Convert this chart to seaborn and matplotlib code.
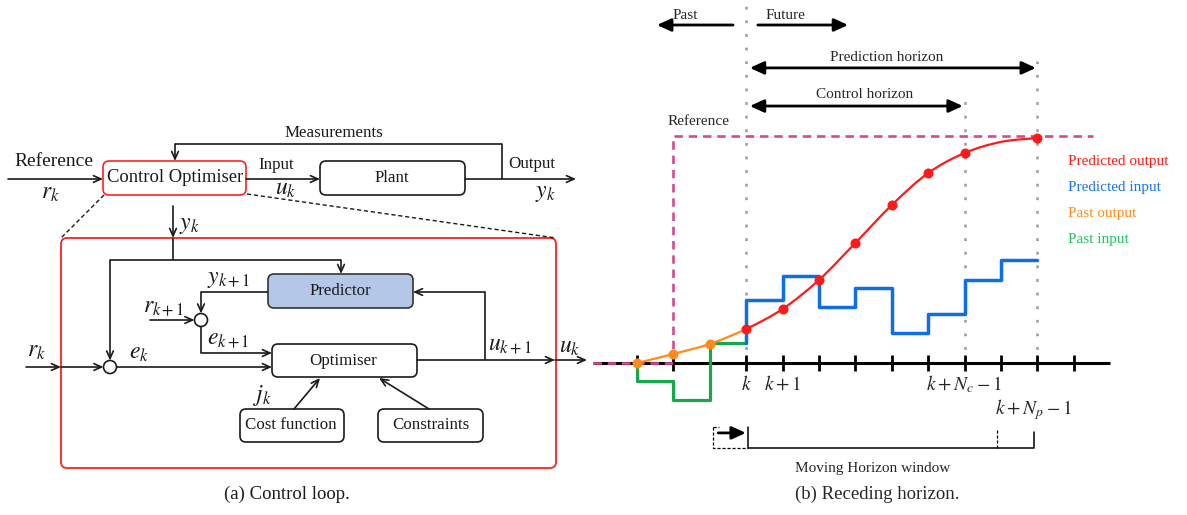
import numpy as np
import matplotlib
matplotlib.use("Agg")
import matplotlib.pyplot as plt
from matplotlib.patches import FancyBboxPatch, Circle, PathPatch
from matplotlib.path import Path
import seaborn as sns

# ---------------------------------------------------------------------------
# Receding-horizon data: discrete time steps on the horizontal axis and
# normalised signal levels (reference = 1).
# ---------------------------------------------------------------------------
steps = np.arange(13)                 # sampling instants shown as ticks
k_now = 3                             # current instant k
n_control = 7                         # control horizon N_c
n_predict = 9                         # prediction horizon N_p
reference_level = 1.0
reference_start = 1                   # step where the reference jumps

past_output = [0.0, 0.040, 0.084, 0.150]                       # steps 0..3
predicted_output = [0.150, 0.238, 0.366, 0.529, 0.696,
                    0.837, 0.925, 0.974, 0.991]                  # steps 3..11
past_input = [-0.079, -0.163, 0.088]                             # held on [0,1),[1,2),[2,3)
predicted_input = [0.278, 0.383, 0.247, 0.330,
                   0.132, 0.216, 0.366, 0.454]                   # held on [3,4) .. [10,11)

legend_labels = ["Predicted output", "Predicted input", "Past output", "Past input"]
legend_colors = ["#ff1a1a", "#1a72f0", "#ff8c1a", "#1fc462"]
tick_labels = {k_now: r"$k$", k_now + 1: r"$k+1$",
               k_now + n_control - 1: r"$k+N_c-1$"}

RED = "#ff1a1a"
BLUE = "#0f6de6"
ORANGE = "#ff8c1a"
GREEN = "#16a84a"
PINK = "#d6498f"
GREY = "#a3a3a3"
INK = "#1a1a1a"

sns.set_theme(style="white")
plt.rcParams["font.family"] = ["Liberation Serif", "DejaVu Serif"]
plt.rcParams["mathtext.fontset"] = "stix"

W, H = 1187, 515
fig = plt.figure(figsize=(W / 100, H / 100), dpi=100)
fig.patch.set_facecolor("white")

# ---------------------------------------------------------------------------
# (a) Control loop: block diagram on a pixel-like canvas
# ---------------------------------------------------------------------------
ax = fig.add_axes([0, 0, 1, 1])
ax.set_xlim(0, W)
ax.set_ylim(H, 0)
ax.axis("off")

LW = 1.2
small_head = "->,head_length=0.45,head_width=0.2"


def box(x0, y0, x1, y1, ec=INK, fc="white", lw=LW):
    ax.add_patch(FancyBboxPatch((x0, y0), x1 - x0, y1 - y0,
                                boxstyle="round,pad=0,rounding_size=6",
                                ec=ec, fc=fc, lw=lw, zorder=3))


def arrow(x0, y0, x1, y1):
    ax.annotate("", xy=(x1, y1), xytext=(x0, y0),
                arrowprops=dict(arrowstyle=small_head, lw=LW, color=INK,
                                shrinkA=0, shrinkB=0, mutation_scale=12),
                zorder=4)


def line(xs, ys, **kw):
    ax.plot(xs, ys, color=kw.pop("color", INK), lw=kw.pop("lw", LW),
            solid_capstyle="butt", zorder=4, **kw)


def label(x, y, s, size=12.2, **kw):
    ax.text(x, y, s, fontsize=size, ha=kw.pop("ha", "center"),
            va=kw.pop("va", "center"), color=kw.pop("color", INK), **kw)


def summer(x, y, r=6.5):
    ax.add_patch(Circle((x, y), r, fc="white", ec=INK, lw=LW, zorder=5))


MATH = 17

# top-level loop
arrow(8, 179, 103, 179)
box(103, 161, 246, 195, ec="#ff2020")
label(175, 178, "Control Optimiser", size=13.4)
label(54, 162, "Reference", size=14)
label(50, 193, r"$r_k$", size=MATH)
arrow(246, 179, 320, 179)
label(276, 165, "Input")
label(286, 189, r"$u_k$", size=MATH)
box(320, 161, 465, 195)
label(392, 178, "Plant")
arrow(465, 179, 576, 179)
label(532, 164, "Output")
label(545, 193, r"$y_k$", size=MATH)
line([502, 502, 175], [179, 144, 144])
arrow(175, 144, 175, 161)
label(334, 133, "Measurements")

# zoom-in guides
line([104, 61], [195, 238], lw=1.0, ls=(0, (3, 2)))
line([247, 556], [194, 238], lw=1.0, ls=(0, (3, 2)))

# expanded controller
box(61, 238, 556, 468, ec="#ff2020", fc="none", lw=1.3)
arrow(173, 206, 173, 238)
label(189, 225, r"$y_k$", size=MATH)
line([173, 173], [238, 260])
line([110, 341], [260, 260])
arrow(341, 260, 341, 274)
arrow(110, 260, 110, 360.5)
summer(110, 367)
arrow(26, 367, 61, 367)
arrow(61, 367, 103.5, 367)
label(36, 351, r"$r_k$", size=MATH)
label(139, 354, r"$e_k$", size=MATH)
arrow(116.5, 367, 272, 367)

box(268, 274, 413, 308, ec="#333333", fc="#b4c7e7")
label(340, 291, "Predictor")
line([268, 201], [292, 292])
arrow(201, 292, 201, 313.5)
label(229, 279, r"$y_{k+1}$", size=MATH)
summer(201, 320)
arrow(150, 320, 194.5, 320)
label(164, 307, r"$r_{k+1}$", size=MATH)
line([201, 201], [326.5, 353])
arrow(201, 353, 272, 353)
label(228, 339, r"$e_{k+1}$", size=MATH)

box(272, 344, 417, 377)
label(343, 361, "Optimiser")
arrow(417, 360, 555, 360)
arrow(555, 360, 587, 360)
line([485, 485], [360, 292])
arrow(485, 292, 413, 292)
label(510, 346, r"$u_{k+1}$", size=MATH)
label(570, 348, r"$u_k$", size=MATH)

box(240, 409, 344, 442)
label(291, 425, "Cost function")
box(378, 409, 483, 442)
label(431, 425, "Constraints")
arrow(294, 409, 320, 378)
label(263, 396, r"$j_k$", size=MATH)
arrow(429, 409, 379, 378)

label(287, 494, "(a) Control loop.", size=13.5)

# ---------------------------------------------------------------------------
# (b) Receding horizon: data axes (one unit = one sampling step)
# ---------------------------------------------------------------------------
x_px0, x_px1 = 585, W
axr = fig.add_axes([x_px0 / W, 0, (x_px1 - x_px0) / W, 1])
axr.set_xlim((x_px0 - 637) / 36.4, (x_px1 - 637) / 36.4)
axr.set_ylim(-152 / 227, 363 / 227)
axr.axis("off")
axr.patch.set_alpha(0)

k_c = k_now + n_control - 1
k_p = k_now + n_predict - 1

# time axis with ticks
axr.plot([-1.2, 13.0], [0, 0], color="black", lw=2.2, zorder=3,
         solid_capstyle="butt")
axr.vlines(steps, -0.036, 0.036, color="black", lw=2.0, zorder=3)

# horizon markers
dots = (0, (1, 3.9))
axr.vlines(k_now, 0, 1.575, color=GREY, lw=2.0, ls=dots, zorder=1)
axr.vlines(k_c, 0, 1.159, color=GREY, lw=2.0, ls=dots, zorder=1)
axr.vlines(k_p, 0, 1.330, color=GREY, lw=2.0, ls=dots, zorder=1)

# reference trajectory
dash = (0, (3.2, 2.2))
axr.plot([-1.2, reference_start], [0, 0], color=PINK, lw=1.9, ls=dash, zorder=4)
axr.plot([reference_start, reference_start, 12.53],
         [0, reference_level, reference_level],
         color=PINK, lw=1.9, ls=dash, zorder=2)

# past input and predicted input (zero-order hold)
gx = np.r_[0, np.arange(len(past_input) + 1)]
gy = np.r_[0, past_input, past_input[-1]]
sns.lineplot(x=gx, y=gy, ax=axr, color=GREEN, lw=2.3, estimator=None,
             sort=False, drawstyle="steps-post", zorder=5)
bx = np.r_[k_now, k_now + np.arange(len(predicted_input) + 1)]
by = np.r_[past_input[-1], predicted_input, predicted_input[-1]]
sns.lineplot(x=bx, y=by, ax=axr, color=BLUE, lw=2.5, estimator=None,
             sort=False, drawstyle="steps-post", zorder=5)

# output trajectory drawn as a smooth Catmull-Rom curve through the samples
out_x = np.r_[np.arange(len(past_output) - 1),
              k_now + np.arange(len(predicted_output))].astype(float)
out_y = np.r_[past_output[:-1], predicted_output]
pts = np.column_stack([out_x, out_y])


def curve_piece(i0, i1):
    verts, codes = [pts[i0]], [Path.MOVETO]
    n = len(pts)
    for i in range(i0, i1):
        p0 = pts[max(i - 1, 0)]
        p1, p2 = pts[i], pts[i + 1]
        p3 = pts[min(i + 2, n - 1)]
        verts += [p1 + (p2 - p0) / 6, p2 - (p3 - p1) / 6, p2]
        codes += [Path.CURVE4] * 3
    return Path(verts, codes)


split = len(past_output) - 1
axr.add_patch(PathPatch(curve_piece(0, split), fc="none", ec=ORANGE,
                        lw=1.6, zorder=6))
axr.add_patch(PathPatch(curve_piece(split, len(pts) - 1), fc="none", ec=RED,
                        lw=1.6, zorder=7))

sns.scatterplot(x=np.arange(len(past_output) - 1), y=past_output[:-1], ax=axr,
                color=ORANGE, s=52, linewidth=0, zorder=8)
red_idx = [i for i in range(len(predicted_output)) if i != 7]
sns.scatterplot(x=k_now + np.array(red_idx),
                y=np.array(predicted_output)[red_idx], ax=axr,
                color=RED, s=52, linewidth=0, zorder=9)

# tick labels
for s, txt in tick_labels.items():
    axr.text(s, -0.093, txt, fontsize=14, ha="center", va="center")
axr.text(k_p - 0.1, -0.207, r"$k+N_p-1$", fontsize=14, ha="center", va="center")

# legend as coloured text
for j, (txt, col) in enumerate(zip(legend_labels, legend_colors)):
    axr.text(11.84, 0.887 - j * 0.1137, txt, color=col, fontsize=11,
             ha="left", va="center")

axr.text(1.70, 1.066, "Reference", fontsize=11, ha="center", va="center")

# past / future and horizon arrows
big_head = "-|>,head_length=0.7,head_width=0.32"
big_both = "<|-|>,head_length=0.7,head_width=0.32"


def harrow(x0, x1, y, style):
    axr.annotate("", xy=(x1, y), xytext=(x0, y),
                 arrowprops=dict(arrowstyle=style, lw=2.0, color="black",
                                 shrinkA=0, shrinkB=0, mutation_scale=12))


axr.text(1.32, 1.533, "Past", fontsize=11, ha="center", va="center")
harrow(k_now - 0.36, 0.55, 1.489, big_head)
axr.text(4.07, 1.533, "Future", fontsize=11, ha="center", va="center")
harrow(k_now + 0.32, 5.80, 1.489, big_head)
axr.text(6.87, 1.348, "Prediction horizon", fontsize=11, ha="center", va="center")
harrow(k_now + 0.1, k_p - 0.04, 1.300, big_both)
axr.text(6.26, 1.185, "Control horizon", fontsize=11, ha="center", va="center")
harrow(k_now + 0.1, k_c - 0.05, 1.132, big_both)

# moving horizon window
axr.plot([2.09, 2.09, 3.05], [-0.282, -0.374, -0.374], color="black", lw=0.9,
         ls=(0, (2.5, 1.5)))
axr.plot([2.09, 2.25], [-0.282, -0.282], color="black", lw=0.9,
         ls=(0, (2.5, 1.5)))
axr.plot([3.05, 3.05, 10.92, 10.92], [-0.282, -0.374, -0.374, -0.304],
         color="black", lw=1.1)
axr.plot([9.89, 9.89], [-0.295, -0.374], color="black", lw=0.9,
         ls=(0, (2.5, 1.5)))
harrow(2.23, 2.99, -0.308, big_head)
axr.text(6.48, -0.463, "Moving Horizon window", fontsize=11,
         ha="center", va="center")

axr.text(6.59, -0.577, "(b) Receding horizon.", fontsize=13.5,
         ha="center", va="center")

fig.savefig("out.png", dpi=100, facecolor="white")
